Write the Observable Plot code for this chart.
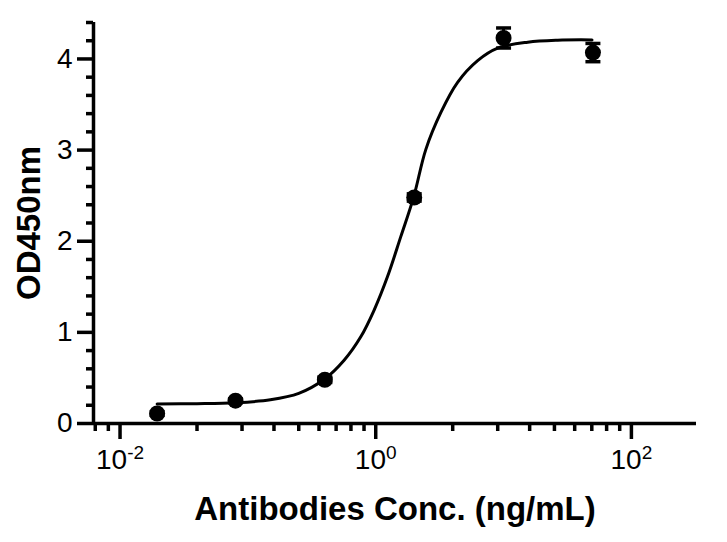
<!DOCTYPE html>
<html>
<head>
<meta charset="utf-8">
<script src="https://cdn.jsdelivr.net/npm/d3@7"></script>
<script src="https://cdn.jsdelivr.net/npm/@observablehq/plot@0.6"></script>
<style>
  html, body { margin: 0; padding: 0; background: #fff; }
  #chart svg { font-family: "Liberation Sans", Arial, Helvetica, sans-serif; }
  #chart g[aria-label="x-axis label"] text,
  #chart g[aria-label="y-axis label"] text { font-size: 33px; font-weight: bold; fill: #000; }
</style>
</head>
<body>
<div id="chart"></div>
<script>
// Measured points (concentration in ng/mL, OD450nm, error)
const concentration = [0.0195, 0.08, 0.4, 2, 10, 50];
const od450 = [0.11, 0.25, 0.48, 2.48, 4.23, 4.07];
const odError = [0.02, 0.02, 0.03, 0.04, 0.11, 0.10];

// Fitted curve
const fitConc = [0.0195, 0.04, 0.08, 0.15, 0.25, 0.394, 0.566, 0.764, 0.972, 1.237, 1.573, 1.977, 2.467, 3.235, 4.37, 6.27, 8.99, 15.45, 26.5, 49.2];
const fitOD   = [0.215, 0.218, 0.228, 0.26, 0.33, 0.482, 0.694, 0.951, 1.245, 1.612, 2.053, 2.481, 3.008, 3.413, 3.743, 3.981, 4.118, 4.184, 4.206, 4.209];

// Axis ticks
const xMajorTicks = [0.01, 1, 100];
const xTickExponents = ["-2", "0", "2"];
const xMinorTicks = [0.0064, 0.0081, 0.04, 0.09, 0.16, 0.25, 0.36, 0.49, 0.64, 0.81, 4, 9, 16, 25, 36, 49, 64, 81];
const yMajorTicks = [0, 1, 2, 3, 4];
const yMinorTicks = [0.2, 0.4, 0.6, 0.8, 1.2, 1.4, 1.6, 1.8, 2.2, 2.4, 2.6, 2.8, 3.2, 3.4, 3.6, 3.8, 4.2, 4.4];

const xDomain = [0.0062, 323];
const yDomain = [0, 4.4];

const points = concentration.map((c, i) => ({c, od: od450[i], err: odError[i]}));
const fit = fitConc.map((c, i) => ({c, od: fitOD[i]}));

const capSymbol = {
  draw(context, size) {
    const w = Math.sqrt(size / Math.PI);
    context.moveTo(-w, 0);
    context.lineTo(w, 0);
  }
};

const chart = Plot.plot({
  width: 727,
  height: 542,
  marginLeft: 93,
  marginRight: 31,
  marginTop: 22,
  marginBottom: 119,
  style: {fontFamily: '"Liberation Sans", Arial, Helvetica, sans-serif', color: "#000", background: "#fff"},
  x: {type: "log", domain: xDomain},
  y: {domain: yDomain},
  marks: [
    Plot.axisY(yMinorTicks, {tickSize: 7, strokeWidth: 3.5, tickFormat: () => "", label: null}),
    Plot.axisY(yMajorTicks, {tickSize: 16, strokeWidth: 3.5, tickPadding: 5, fontSize: 28, tickFormat: d => String(d),
      label: "OD450nm", labelAnchor: "center", labelOffset: 77, labelArrow: "none"}),
    Plot.axisX(xMinorTicks, {tickSize: 8, strokeWidth: 3.5, tickFormat: () => "", label: null}),
    Plot.axisX(xMajorTicks, {tickSize: 16, strokeWidth: 3.5, tickPadding: 10, fontSize: 28,
      tickFormat: d => "10^" + xTickExponents[xMajorTicks.indexOf(d)],
      label: "Antibodies Conc. (ng/mL)", labelAnchor: "center", labelOffset: 96, labelArrow: "none"}),
    Plot.ruleY([yDomain[0]], {stroke: "#000", strokeWidth: 3.5}),
    Plot.ruleX([xDomain[0]], {stroke: "#000", strokeWidth: 3.5}),
    Plot.line(fit, {x: "c", y: "od", curve: "catmull-rom", stroke: "#000", strokeWidth: 3}),
    Plot.ruleX(points, {x: "c", y1: d => d.od - d.err, y2: d => d.od + d.err, stroke: "#000", strokeWidth: 3}),
    Plot.dot(points, {x: "c", y: d => d.od + d.err, symbol: capSymbol, r: 7.5, stroke: "#000", strokeWidth: 3.5, fill: "none"}),
    Plot.dot(points, {x: "c", y: d => d.od - d.err, symbol: capSymbol, r: 7.5, stroke: "#000", strokeWidth: 3.5, fill: "none"}),
    Plot.dot(points, {x: "c", y: "od", r: 8, fill: "#000", stroke: "none"})
  ]
});

document.getElementById("chart").appendChild(chart);

// Strip any label arrows (older Plot versions) and render exponents as superscripts
chart.querySelectorAll('g[aria-label="x-axis label"] text, g[aria-label="y-axis label"] text').forEach(t => {
  t.textContent = t.textContent.replace(/\s*[↑→←↓]\s*/g, "");
});
chart.querySelectorAll('g[aria-label="x-axis tick label"] text').forEach(t => {
  const s = t.textContent;
  if (!s.includes("^")) return;
  const [base, exp] = s.split("^");
  t.textContent = "";
  const b = document.createElementNS("http://www.w3.org/2000/svg", "tspan");
  b.textContent = base;
  const e = document.createElementNS("http://www.w3.org/2000/svg", "tspan");
  e.textContent = exp;
  e.setAttribute("font-size", "0.68em");
  e.setAttribute("dy", "-0.55em");
  t.appendChild(b);
  t.appendChild(e);
});
</script>
</body>
</html>
